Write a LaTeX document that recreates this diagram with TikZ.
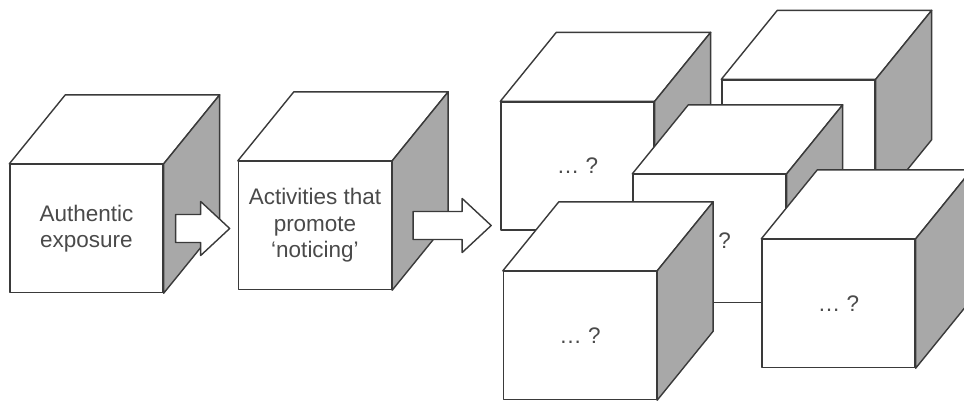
\documentclass[tikz,border=0pt]{standalone}
\usepackage{fontspec}
\setmainfont{Liberation Sans}
\usetikzlibrary{positioning,calc}
\definecolor{edgegrey}{HTML}{3A3A3A}
\definecolor{sidegrey}{HTML}{A8A8A8}
\definecolor{textgrey}{HTML}{4A4A4A}

\begin{document}
\begin{tikzpicture}[x=0.02cm, y=-0.02cm, line width=0.8pt, line join=round,
    front/.style={draw=edgegrey, fill=white, minimum width=3.06cm, minimum height=2.56cm,
      inner sep=0pt, align=center, text=textgrey, font=\fontsize{12.8}{15}\selectfont},
    face/.style={draw=edgegrey, fill=white},
    shade/.style={draw=edgegrey, fill=sidegrey},
    blockarrow/.style={draw=edgegrey, fill=white}]
  \useasboundingbox (0,0) rectangle (964,400);
  % cubes, back to front: front face is the node, top and side hang off it
  \foreach \name/\pos/\txt in {c1/{86.5,228.5}/{Authentic\\exposure},
      c2/{315,225.5}/{Activities that\\promote\\`noticing'},
      cB/{798.5,144}/{}, cA/{577.5,166}/{\dots\ ?}, cC/{709.5,238.5}/{},
      cD/{580,335.5}/{\dots\ ?}, cE/{838.5,303.5}/{\dots\ ?}} {
    \node[front] (\name) at (\pos) {\txt};
    \draw[face] (\name.north west) -- ++(56,-69) -- ($(\name.north east)+(56,-69)$)
      -- (\name.north east) -- cycle;
    \draw[shade] (\name.north east) -- ++(56,-69) -- ($(\name.south east)+(56,-69)$)
      -- (\name.south east) -- cycle;
  }
  \node[text=textgrey, font=\fontsize{12.8}{15}\selectfont] (qC) at ($(cC)+(15,2)$) {?};
  % white block arrows
  \foreach \src/\off/\shaft in {c1/12/25, c2/21/49}
    \draw[blockarrow] ($(\src.east)+(\off,-14)$) -- ++(\shaft,0) -- ++(0,-13)
      -- ++(29,27) -- ++(-29,27) -- ++(0,-13) -- ++(-\shaft,0) -- cycle;
\end{tikzpicture}
\end{document}
